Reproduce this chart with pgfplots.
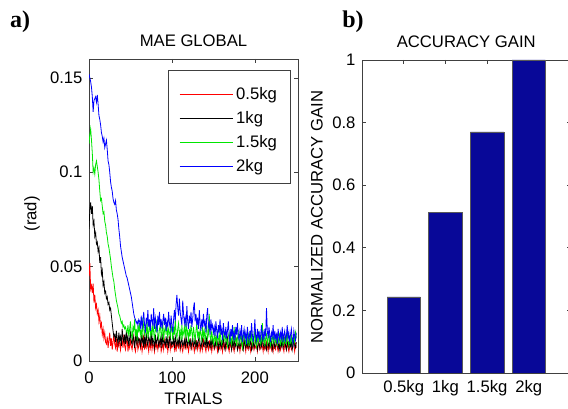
\documentclass[border=0pt]{standalone}
\usepackage{fontspec}
\setmainfont{Liberation Sans}
\newfontfamily\panelfont{Liberation Serif}
\usepackage{pgfplots}
\usepackage{pgfplotstable}
\pgfplotsset{compat=1.18}
\definecolor{lineRed}{RGB}{255,0,0}
\definecolor{lineGreen}{RGB}{0,230,0}
\definecolor{lineBlue}{RGB}{0,0,255}
\definecolor{barblue}{RGB}{8,8,152}
\pgfplotstableread{
t r k g b
0 0.045 0.070 0.115 0.152
1 0.052 0.080 0.120 0.150
2 0.038 0.084 0.123 0.148
3 0.040 0.078 0.117 0.145
4 0.036 0.082 0.110 0.140
5 0.041 0.072 0.100 0.132
6 0.031 0.074 0.102 0.138
7 0.035 0.066 0.099 0.139
8 0.028 0.068 0.104 0.140
9 0.030 0.062 0.106 0.137
10 0.025 0.063 0.103 0.141
11 0.027 0.058 0.100 0.136
12 0.021 0.060 0.096 0.130
13 0.024 0.052 0.090 0.128
14 0.018 0.055 0.085 0.125
15 0.020 0.046 0.086 0.121
16 0.014 0.048 0.082 0.119
17 0.017 0.040 0.078 0.116
18 0.012 0.042 0.079 0.118
19 0.015 0.036 0.074 0.113
20 0.010 0.037 0.072 0.115
21 0.009 0.033 0.068 0.117
22 0.013 0.034 0.066 0.112
23 0.007 0.030 0.062 0.106
24 0.011 0.031 0.060 0.104
25 0.015 0.027 0.057 0.100
26 0.008 0.028 0.054 0.095
27 0.012 0.024 0.050 0.092
28 0.006 0.020 0.047 0.090
29 0.010 0.016 0.044 0.086
30 0.014 0.013 0.042 0.084
31 0.009 0.014 0.038 0.083
32 0.007 0.010 0.035 0.085
33 0.012 0.016 0.032 0.080
34 0.005 0.012 0.030 0.078
35 0.010 0.009 0.028 0.075
36 0.008 0.015 0.025 0.070
37 0.013 0.011 0.024 0.066
38 0.006 0.013 0.022 0.061
39 0.009 0.008 0.020 0.058
40 0.011 0.017 0.021 0.055
41 0.007 0.012 0.018 0.053
42 0.014 0.010 0.019 0.051
43 0.008 0.014 0.017 0.049
44 0.006 0.009 0.018 0.047
45 0.010 0.016 0.016 0.045
46 0.012 0.011 0.015 0.044
47 0.005 0.013 0.019 0.042
48 0.009 0.008 0.013 0.040
49 0.007 0.012 0.017 0.038
50 0.011 0.015 0.021 0.036
51 0.008 0.010 0.014 0.034
52 0.006 0.009 0.012 0.031
53 0.010 0.014 0.018 0.028
54 0.013 0.011 0.016 0.025
55 0.007 0.007 0.022 0.023
56 0.005 0.013 0.013 0.022
57 0.009 0.010 0.017 0.020
58 0.011 0.016 0.011 0.021
59 0.006 0.009 0.019 0.019
60 0.008 0.012 0.015 0.022
61 0.012 0.011 0.020 0.021
62 0.007 0.008 0.014 0.018
63 0.010 0.014 0.016 0.024
64 0.005 0.010 0.012 0.017
65 0.008 0.013 0.023 0.022
66 0.014 0.007 0.017 0.026
67 0.006 0.012 0.013 0.019
68 0.009 0.009 0.018 0.015
69 0.007 0.015 0.015 0.023
70 0.011 0.010 0.021 0.020
71 0.008 0.008 0.012 0.027
72 0.005 0.013 0.016 0.018
73 0.010 0.011 0.019 0.022
74 0.007 0.009 0.014 0.016
75 0.012 0.016 0.017 0.025
76 0.006 0.008 0.013 0.021
77 0.009 0.012 0.020 0.019
78 0.008 0.010 0.015 0.028
79 0.005 0.007 0.011 0.017
80 0.011 0.014 0.018 0.023
81 0.007 0.009 0.016 0.020
82 0.009 0.011 0.022 0.015
83 0.006 0.013 0.014 0.024
84 0.010 0.008 0.012 0.019
85 0.008 0.010 0.017 0.026
86 0.012 0.012 0.019 0.018
87 0.005 0.007 0.013 0.022
88 0.007 0.015 0.015 0.017
89 0.009 0.009 0.021 0.021
90 0.006 0.011 0.011 0.025
91 0.011 0.010 0.016 0.019
92 0.008 0.008 0.018 0.023
93 0.007 0.013 0.014 0.016
94 0.010 0.009 0.020 0.021
95 0.005 0.012 0.012 0.018
96 0.008 0.007 0.017 0.026
97 0.013 0.011 0.015 0.020
98 0.006 0.014 0.013 0.017
99 0.009 0.008 0.019 0.024
100 0.007 0.010 0.016 0.019
101 0.008 0.009 0.011 0.015
102 0.011 0.012 0.018 0.022
103 0.006 0.007 0.014 0.027
104 0.009 0.013 0.022 0.021
105 0.005 0.010 0.015 0.030
106 0.010 0.008 0.012 0.035
107 0.008 0.011 0.017 0.028
108 0.007 0.009 0.020 0.024
109 0.012 0.014 0.014 0.033
110 0.006 0.007 0.016 0.026
111 0.009 0.010 0.011 0.022
112 0.007 0.012 0.019 0.019
113 0.005 0.008 0.013 0.032
114 0.008 0.009 0.015 0.025
115 0.011 0.011 0.018 0.020
116 0.006 0.007 0.012 0.023
117 0.010 0.013 0.021 0.018
118 0.007 0.010 0.014 0.029
119 0.009 0.008 0.016 0.021
120 0.005 0.012 0.010 0.017
121 0.008 0.009 0.017 0.024
122 0.012 0.011 0.013 0.020
123 0.007 0.007 0.019 0.026
124 0.006 0.010 0.015 0.018
125 0.010 0.013 0.012 0.022
126 0.008 0.008 0.018 0.028
127 0.005 0.009 0.014 0.031
128 0.009 0.012 0.011 0.021
129 0.007 0.007 0.016 0.025
130 0.011 0.010 0.020 0.019
131 0.006 0.008 0.013 0.023
132 0.008 0.011 0.015 0.017
133 0.010 0.014 0.012 0.027
134 0.005 0.009 0.017 0.020
135 0.007 0.007 0.014 0.016
136 0.009 0.010 0.011 0.022
137 0.006 0.012 0.018 0.018
138 0.012 0.008 0.013 0.025
139 0.008 0.009 0.016 0.019
140 0.007 0.011 0.010 0.021
141 0.005 0.007 0.015 0.015
142 0.009 0.013 0.019 0.024
143 0.008 0.008 0.012 0.028
144 0.006 0.010 0.014 0.018
145 0.011 0.009 0.025 0.020
146 0.007 0.007 0.013 0.014
147 0.009 0.012 0.011 0.022
148 0.005 0.008 0.016 0.017
149 0.008 0.011 0.012 0.019
150 0.010 0.009 0.009 0.015
151 0.006 0.007 0.014 0.018
152 0.007 0.010 0.011 0.013
153 0.012 0.008 0.013 0.021
154 0.008 0.012 0.008 0.016
155 0.005 0.009 0.015 0.012
156 0.009 0.006 0.012 0.019
157 0.007 0.011 0.010 0.015
158 0.006 0.008 0.017 0.022
159 0.010 0.010 0.011 0.014
160 0.008 0.007 0.009 0.017
161 0.005 0.009 0.013 0.011
162 0.011 0.013 0.012 0.020
163 0.007 0.008 0.016 0.015
164 0.009 0.006 0.010 0.013
165 0.006 0.010 0.014 0.018
166 0.008 0.009 0.011 0.012
167 0.013 0.012 0.008 0.016
168 0.007 0.007 0.013 0.021
169 0.005 0.008 0.015 0.014
170 0.009 0.011 0.010 0.010
171 0.008 0.009 0.012 0.017
172 0.006 0.006 0.009 0.013
173 0.010 0.010 0.014 0.019
174 0.007 0.008 0.011 0.012
175 0.005 0.012 0.018 0.015
176 0.009 0.007 0.010 0.011
177 0.008 0.009 0.013 0.018
178 0.011 0.011 0.008 0.014
179 0.006 0.006 0.012 0.020
180 0.007 0.008 0.015 0.013
181 0.009 0.010 0.009 0.011
182 0.005 0.007 0.011 0.016
183 0.008 0.009 0.014 0.013
184 0.010 0.012 0.010 0.019
185 0.006 0.008 0.007 0.010
186 0.007 0.006 0.012 0.014
187 0.012 0.011 0.016 0.017
188 0.008 0.009 0.011 0.012
189 0.005 0.007 0.009 0.015
190 0.009 0.010 0.013 0.009
191 0.007 0.008 0.010 0.018
192 0.006 0.013 0.015 0.013
193 0.010 0.007 0.008 0.011
194 0.008 0.009 0.012 0.016
195 0.005 0.011 0.011 0.012
196 0.009 0.006 0.014 0.020
197 0.007 0.008 0.009 0.014
198 0.011 0.010 0.012 0.010
199 0.006 0.007 0.010 0.015
200 0.008 0.009 0.017 0.022
201 0.007 0.012 0.011 0.013
202 0.009 0.008 0.008 0.011
203 0.005 0.006 0.013 0.017
204 0.008 0.010 0.010 0.012
205 0.010 0.009 0.015 0.016
206 0.006 0.007 0.012 0.010
207 0.007 0.011 0.009 0.014
208 0.012 0.008 0.011 0.019
209 0.008 0.014 0.020 0.012
210 0.005 0.009 0.010 0.015
211 0.009 0.007 0.013 0.011
212 0.006 0.010 0.008 0.017
213 0.007 0.008 0.012 0.013
214 0.010 0.006 0.014 0.028
215 0.008 0.011 0.009 0.016
216 0.005 0.009 0.011 0.012
217 0.009 0.007 0.016 0.018
218 0.007 0.012 0.010 0.014
219 0.011 0.008 0.008 0.010
220 0.006 0.010 0.012 0.015
221 0.008 0.006 0.013 0.013
222 0.005 0.009 0.009 0.019
223 0.009 0.011 0.015 0.011
224 0.007 0.007 0.011 0.016
225 0.006 0.008 0.010 0.012
226 0.010 0.010 0.013 0.014
227 0.008 0.013 0.008 0.009
228 0.005 0.007 0.012 0.017
229 0.007 0.009 0.010 0.013
230 0.009 0.006 0.015 0.011
231 0.006 0.010 0.009 0.015
232 0.008 0.008 0.011 0.012
233 0.011 0.011 0.014 0.018
234 0.007 0.007 0.008 0.010
235 0.005 0.009 0.012 0.014
236 0.009 0.012 0.010 0.016
237 0.008 0.008 0.013 0.011
238 0.006 0.006 0.009 0.013
239 0.010 0.010 0.016 0.019
240 0.007 0.009 0.011 0.012
241 0.005 0.007 0.008 0.015
242 0.008 0.011 0.012 0.010
243 0.009 0.008 0.010 0.014
244 0.006 0.010 0.014 0.017
245 0.007 0.006 0.009 0.012
246 0.011 0.009 0.011 0.009
247 0.008 0.012 0.013 0.016
248 0.005 0.008 0.010 0.013
249 0.009 0.007 0.015 0.011
250 0.007 0.010 0.012 0.015
}\maedata
\pgfplotstableread{
x gain
1 0.243
2 0.514
3 0.770
4 1.000
}\gaindata
\pgfplotsset{
  mstyle/.style={
    scale only axis,
    anchor=south west,
    tick align=inside,
    major tick length=3pt,
    axis line style={black!75, line width=0.5pt},
    tick style={black!75, line width=0.5pt},
    /pgf/number format/assume math mode=true,
    yticklabel style={xshift=-0.5pt},
  },
}
\begin{document}
\fontsize{12.5}{14}\selectfont
\begin{tikzpicture}
\path[use as bounding box] (0,0) rectangle (426pt,306.75pt);
\node[font=\panelfont\bfseries\fontsize{18}{20}\selectfont] at (15pt,290.5pt) {a)};
\node[font=\panelfont\bfseries\fontsize{18}{20}\selectfont] at (264.75pt,290.5pt) {b)};
\begin{axis}[
  mstyle,
  at={(66.75pt,36pt)},
  width=156.75pt, height=226.5pt,
  xmin=0, xmax=252, ymin=0, ymax=0.16,
  xtick={0,100,200}, xticklabels={0,100,200},
  ytick={0,0.05,0.1,0.15}, yticklabels={0,0.05,0.1,0.15},
  xticklabel style={yshift=-3.5pt},
  title={MAE GLOBAL},
  title style={at={(axis description cs:0.5,1.034)}, anchor=center},
  xlabel={TRIALS},
  xlabel style={at={(axis description cs:0.5,-0.126)}, anchor=center},
  ylabel={(rad)},
  ylabel style={at={(axis description cs:-0.273,0.487)}, anchor=center},
  legend style={at={(axis description cs:0.9665,0.962)}, anchor=north east,
    draw=black!75,
    inner xsep=8.3pt, inner ysep=5.2pt, row sep=3.1pt, column sep=0pt},
  legend cell align=left,
  legend image post style={xscale=2.35},
]
\addplot[color=lineRed, line width=0.6pt, forget plot] table[x=t, y=r] {\maedata};
\addplot[color=black, line width=0.6pt, forget plot] table[x=t, y=k] {\maedata};
\addplot[color=lineGreen, line width=0.6pt, forget plot] table[x=t, y=g] {\maedata};
\addplot[color=lineBlue, line width=0.6pt, forget plot] table[x=t, y=b] {\maedata};
\addlegendimage{empty legend}
\addlegendentry[inner sep=0pt]{}
\addlegendimage{color=lineRed, line width=0.7pt}
\addlegendentry{0.5kg}
\addlegendimage{color=black, line width=0.7pt}
\addlegendentry{1kg}
\addlegendimage{color=lineGreen, line width=0.7pt}
\addlegendentry{1.5kg}
\addlegendimage{color=lineBlue, line width=0.7pt}
\addlegendentry{2kg}
\end{axis}
\begin{axis}[
  mstyle,
  at={(271.5pt,27pt)},
  width=156.375pt, height=234.75pt,
  xmin=0, xmax=5, ymin=0, ymax=1,
  xtick={1,2,3,4}, xticklabels={0.5kg,1kg,1.5kg,2kg},
  ytick={0,0.2,0.4,0.6,0.8,1}, yticklabels={0,0.2,0.4,0.6,0.8,1},
  xticklabel style={yshift=-1pt},
  title={ACCURACY GAIN},
  title style={at={(axis description cs:0.5,1.032)}, anchor=center},
  ylabel={NORMALIZED ACCURACY GAIN},
  ylabel style={at={(axis description cs:-0.216,0.498)}, anchor=center},
]
\addplot[ybar, bar width=0.8, fill=barblue, draw=black!65, line width=0.4pt] table[x=x, y=gain] {\gaindata};
\end{axis}
\end{tikzpicture}
\end{document}
